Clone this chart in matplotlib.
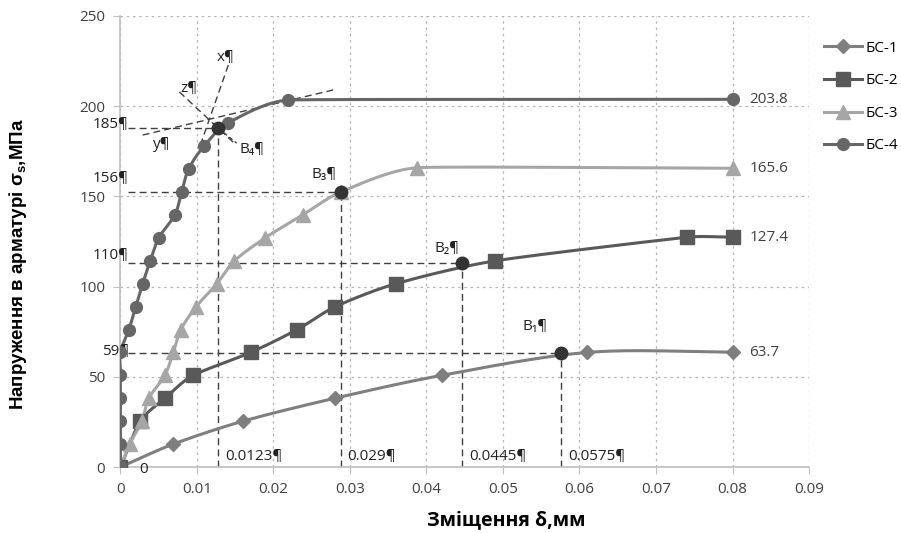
# Напруження в арматурі - зміщення, БС-1..БС-4
import numpy as np
import matplotlib.pyplot as plt

# дані
bs1_x = [0, 0.0069, 0.016, 0.028, 0.042, 0.061, 0.08]
bs1_y = [0, 12.7, 25.4, 38.1, 50.8, 63.5, 63.7]

bs2_x = [0, 0.0026, 0.0058, 0.0095, 0.017, 0.0231, 0.0281, 0.036, 0.049, 0.0741, 0.08]
bs2_y = [0, 25.4, 38.1, 50.8, 63.5, 76.2, 88.9, 101.6, 114.3, 127.4, 127.4]

bs3_x = [0, 0.0012, 0.0028, 0.0037, 0.0058, 0.0069, 0.0079, 0.0099, 0.0126, 0.0149,
         0.0189, 0.0238, 0.0288, 0.0388, 0.08]
bs3_y = [0, 12.7, 25.4, 38.1, 50.8, 63.5, 76.2, 88.9, 101.6, 114.3,
         127.0, 139.7, 152.4, 165.9, 165.6]

bs4_x = [0, 0, 0, 0, 0, 0, 0.0011, 0.002, 0.0029, 0.0039, 0.005, 0.0071, 0.008,
         0.0089, 0.0109, 0.014, 0.0219, 0.08]
bs4_y = [0, 12.7, 25.4, 38.1, 50.8, 63.5, 76.2, 88.9, 101.6, 114.3, 127.0, 139.7,
         152.4, 165.1, 177.8, 190.5, 203.4, 203.8]

names = ['БС-1', 'БС-2', 'БС-3', 'БС-4']

# характерні точки B1..B4
b_x = [0.0576, 0.0447, 0.0288, 0.0128]
b_y = [63.4, 113.0, 152.5, 187.7]
b_names = ['B₁¶', 'B₂¶', 'B₃¶', 'B₄¶']
b_xtext = ['0.0575¶', '0.0445¶', '0.029¶', '0.0123¶']
b_ytext = ['59¶', '110¶', '156¶', '185¶']

end_labels = ['63.7', '127.4', '165.6', '203.8']

# допоміжні прямі x, y, z
line_x = ([0.0141, 0.0103], [222.8, 176.8])
line_z = ([0.0077, 0.0150], [207.9, 179.0])
line_y = ([0.0029, 0.0278], [184.0, 209.0])

SX, SY = 7650.0, 1.804  # пікселів на одиницю по осях


def smooth(xs, ys, n=30):
    # згладжена крива через точки (кубічні сегменти Безьє)
    p = np.column_stack([np.array(xs) * SX, np.array(ys) * SY])
    m = len(p)
    seg_len = np.hypot(*np.diff(p, axis=0).T)
    tang = np.zeros_like(p)
    for i in range(m):
        a = p[max(i - 1, 0)]
        b = p[min(i + 1, m - 1)]
        d = b - a
        d = d / np.hypot(*d)
        if i == 0:
            L = seg_len[0]
        elif i == m - 1:
            L = seg_len[-1]
        else:
            L = min(seg_len[i - 1], seg_len[i])
        tang[i] = d * L
    t = np.linspace(0, 1, n)[:, None]
    segs = []
    for i in range(m - 1):
        p1, p2 = p[i], p[i + 1]
        c1 = p1 + tang[i] / 3
        c2 = p2 - tang[i + 1] / 3
        segs.append((1 - t) ** 3 * p1 + 3 * (1 - t) ** 2 * t * c1
                    + 3 * (1 - t) * t ** 2 * c2 + t ** 3 * p2)
    s = np.vstack(segs)
    return s[:, 0] / SX, s[:, 1] / SY


plt.rcParams['font.family'] = ['Open Sans', 'DejaVu Sans']

fig = plt.figure(figsize=(9.01, 5.33), dpi=100)
ax = fig.add_axes([0.1337, 0.1238, 0.7642, 0.8462])

series = [(bs1_x, bs1_y), (bs2_x, bs2_y), (bs3_x, bs3_y), (bs4_x, bs4_y)]
colors = ['#7f7f7f', '#595959', '#a6a6a6', '#666666']
markers = ['D', 's', '^', 'o']
msizes = [7.5, 9.5, 10, 8.5]
handles = []
for (xs, ys), c, m, ms, nm in zip(series, colors, markers, msizes, names):
    sx, sy = smooth(xs, ys)
    ax.plot(sx, sy, color=c, lw=2.2, zorder=3)
    ax.plot(xs, ys, ls='none', marker=m, ms=ms, color=c, mec=c, zorder=4)
    h, = ax.plot([], [], color=c, lw=2.2, marker=m, ms=ms, mec=c)
    handles.append(h)

txt = dict(fontsize=11, color='#222222')

# пунктирні лінії до точок B
for bx, by, nm, xt, yt in zip(b_x, b_y, b_names, b_xtext, b_ytext):
    ax.plot([0.001, bx], [by, by], color='#404040', lw=1, ls=(0, (5, 3)), zorder=2)
    ax.plot([bx, bx], [0, by], color='#404040', lw=1, ls=(0, (5, 3)), zorder=2)
    ax.plot(bx, by, 'o', ms=9, color='#333333', zorder=5)
    ax.text(bx + 0.0009, 6, xt, va='center', ha='left', **txt)

for yt, ty in zip(b_ytext, [64, 117, 160, 190]):
    ax.text(0.0011, ty, yt, va='center', ha='right', **txt)

# підписи B
ax.text(0.0526, 76, b_names[0], **txt)
ax.text(0.0411, 119, b_names[1], **txt)
ax.text(0.0250, 160, b_names[2], **txt)
ax.text(0.0155, 174, b_names[3], **txt)
ax.plot([0.0128, 0.0152], [187.7, 179.5], color='#404040', lw=1, ls=(0, (3, 2)), zorder=2)

# допоміжні прямі
for lx, ly in (line_x, line_z, line_y):
    ax.plot(lx, ly, color='#404040', lw=1, ls=(0, (5, 3)), zorder=2)
ax.text(0.0126, 227, 'x¶', va='center', **txt)
ax.text(0.0078, 210, 'z¶', va='center', **txt)
ax.text(0.0043, 179, 'y¶', va='center', **txt)
ax.text(0.0024, -1.5, '0', va='center', **txt)

# значення в кінці кривих
for ys, lab in zip([bs1_y, bs2_y, bs3_y, bs4_y], end_labels):
    ax.text(0.0822, ys[-1], lab, fontsize=11, color='#404040', va='center')

ax.set_xlim(0, 0.09)
ax.set_ylim(0, 250)
ax.set_xticks(np.arange(0, 0.0901, 0.01))
ax.set_xticklabels(['0'] + ['%.2f' % v for v in np.arange(0.01, 0.0901, 0.01)])
ax.set_yticks(np.arange(0, 251, 50))
ax.grid(True, ls=(0, (2, 3)), color='#b5b5b5', lw=0.9)
ax.set_axisbelow(True)
for s in ['top', 'right']:
    ax.spines[s].set_visible(False)
for s in ['left', 'bottom']:
    ax.spines[s].set_color('#bfbfbf')
    ax.spines[s].set_linewidth(1.2)
ax.tick_params(colors='#bfbfbf', labelcolor='#404040', labelsize=11, length=5, pad=6)

ax.set_xlabel('Зміщення δ,мм', fontsize=14, fontweight='bold')
ax.xaxis.set_label_coords(0.561, -0.095)
ax.set_ylabel('Напруження в арматурі σ$_\\mathregular{s}$,МПа', fontsize=13.5,
              fontweight='bold', family=['Liberation Sans', 'DejaVu Sans'])
ax.yaxis.set_label_coords(-0.133, 0.45)

fig.legend(handles, names, loc='upper left', bbox_to_anchor=(0.908, 0.935),
           frameon=False, fontsize=11, handlelength=2.5, labelspacing=1.15,
           handletextpad=0.2, borderaxespad=0)

fig.savefig('out.png', dpi=100)
